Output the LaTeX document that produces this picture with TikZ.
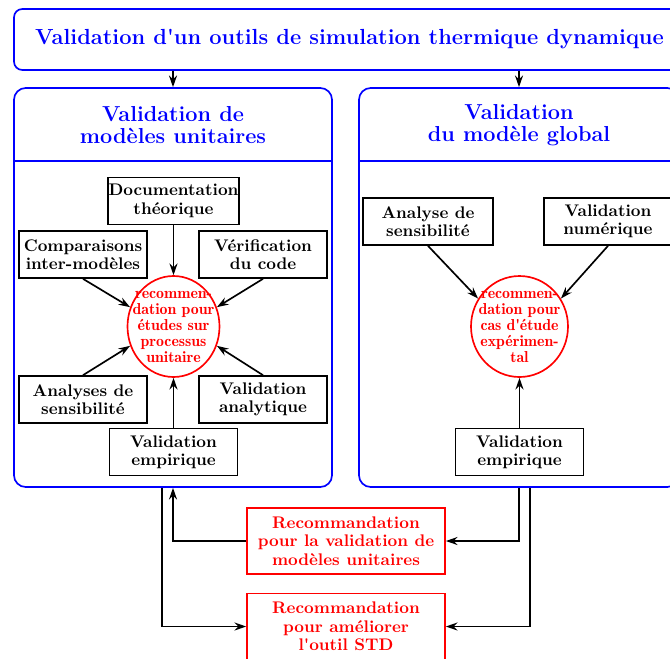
\documentclass[tikz,border=0pt]{standalone}
\usetikzlibrary{arrows.meta,shapes.geometric,calc}
\begin{document}
\begin{tikzpicture}[x=0.6pt,y=-0.6pt,
  basefont/.style={font=\fontsize{10.1}{11}\selectfont\bfseries},
  bbox/.style={basefont, draw, line width=1pt, minimum width=76.8pt, minimum height=28.2pt, inner sep=0.5pt, align=center},
  recbox/.style={basefont, draw=red, text=red, line width=1pt, minimum width=118.8pt, minimum height=39.6pt, inner sep=1pt, align=center},
  panel/.style={draw=blue, line width=1pt, rounded corners=7pt, inner sep=0pt},
  titlebox/.style={draw=blue, text=blue, line width=1pt, rounded corners=5pt, inner sep=0pt, font=\fontsize{13.1}{13.5}\selectfont\bfseries},
  headtext/.style={text=blue, align=center, inner sep=0pt, font=\fontsize{13}{13.3}\selectfont\bfseries},
  reco/.style={ellipse, draw=red, line width=1pt, inner sep=0pt},
  recotext/.style={text=red, align=center, inner sep=0pt, font=\fontsize{9.5}{9.6}\selectfont\fontseries{b}\selectfont},
  arr/.style={-{Stealth[length=7pt,width=4.8pt,inset=2.4pt]}, line width=1pt},
  bline/.style={draw=blue, line width=1pt}
]
\useasboundingbox (0,0) rectangle (670,658);

% title
\node[titlebox, minimum width=402.6pt, minimum height=36.6pt] (title) at (349.5,39.5)
  {Validation d\textquotesingle un outils de simulation thermique dynamique};

% panels
\node[panel, minimum width=190.8pt, minimum height=239.4pt] (L) at (173,287.5) {};
\node[panel, minimum width=192pt, minimum height=239.4pt] (R) at (519,287.5) {};
\draw[bline] ([yshift=-44.4pt]L.north west) -- ([yshift=-44.4pt]L.north east);
\draw[bline] ([yshift=-44.4pt]R.north west) -- ([yshift=-44.4pt]R.north east);
\node[headtext] (Lh) at (173,125) {Validation de\\modèles unitaires};
\node[headtext] (Rh) at (519,125) {Validation\\du modèle global};

\draw[arr] (title.south -| L.north) -- (L.north);
\draw[arr] (title.south -| R.north) -- (R.north);

% left panel content
\node[reco, minimum width=55.2pt, minimum height=60.6pt,
  label={[recotext]center:{recommen-\\dation pour\\études sur\\processus\\unitaire}}] (c1) at (173.5,326.5) {};
\node[bbox] (doc) at (173.5,201) {Documentation\\théorique};
\node[bbox] (comp) at (83,254.5) {Comparaisons\\inter-modèles};
\node[bbox] (ver) at (263,254.5) {Vérification\\du code};
\node[bbox] (ana) at (83,399.5) {Analyses de\\sensibilité};
\node[bbox] (analy) at (263,399.5) {Validation\\analytique};
\node[bbox] (emp) at (173.5,452) {Validation\\empirique};

\draw[arr] (doc) -- (c1);
\draw[arr] (comp.south) -- (c1.156);
\draw[arr] (ver.south) -- (c1.24);
\draw[arr] (ana.north) -- (c1.204);
\draw[arr] (analy.north) -- (c1.-24);
\draw[arr] (emp) -- (c1);

% right panel content
\node[reco, minimum width=58.2pt, minimum height=60.6pt,
  label={[recotext]center:{recommen-\\dation pour\\cas d\textquotesingle étude\\expérimen-\\tal}}] (c2) at (519.5,326.5) {};
\node[bbox, minimum width=78pt] (asens) at (428,221.5) {Analyse de\\sensibilité};
\node[bbox] (vnum) at (608,221.5) {Validation\\numérique};
\node[bbox] (emp2) at (519.5,452) {Validation\\empirique};

\draw[arr] (asens.south) -- (c2.146);
\draw[arr] (vnum.south) -- (c2.34);
\draw[arr] (emp2) -- (c2);

% recommendation boxes
\node[recbox] (rec1) at (346,541) {Recommandation\\pour la validation de\\modèles unitaires};
\node[recbox] (rec2) at (346,626.5) {Recommandation\\pour améliorer\\l\textquotesingle outil STD};

\draw[arr] (rec1.west) -| (L.south);
\draw[arr] (R.south) |- (rec1.east);
\draw[arr] ([xshift=-6.6pt]L.south) |- (rec2.west);
\draw[arr] ([xshift=6.6pt]R.south) |- (rec2.east);
\end{tikzpicture}
\end{document}
